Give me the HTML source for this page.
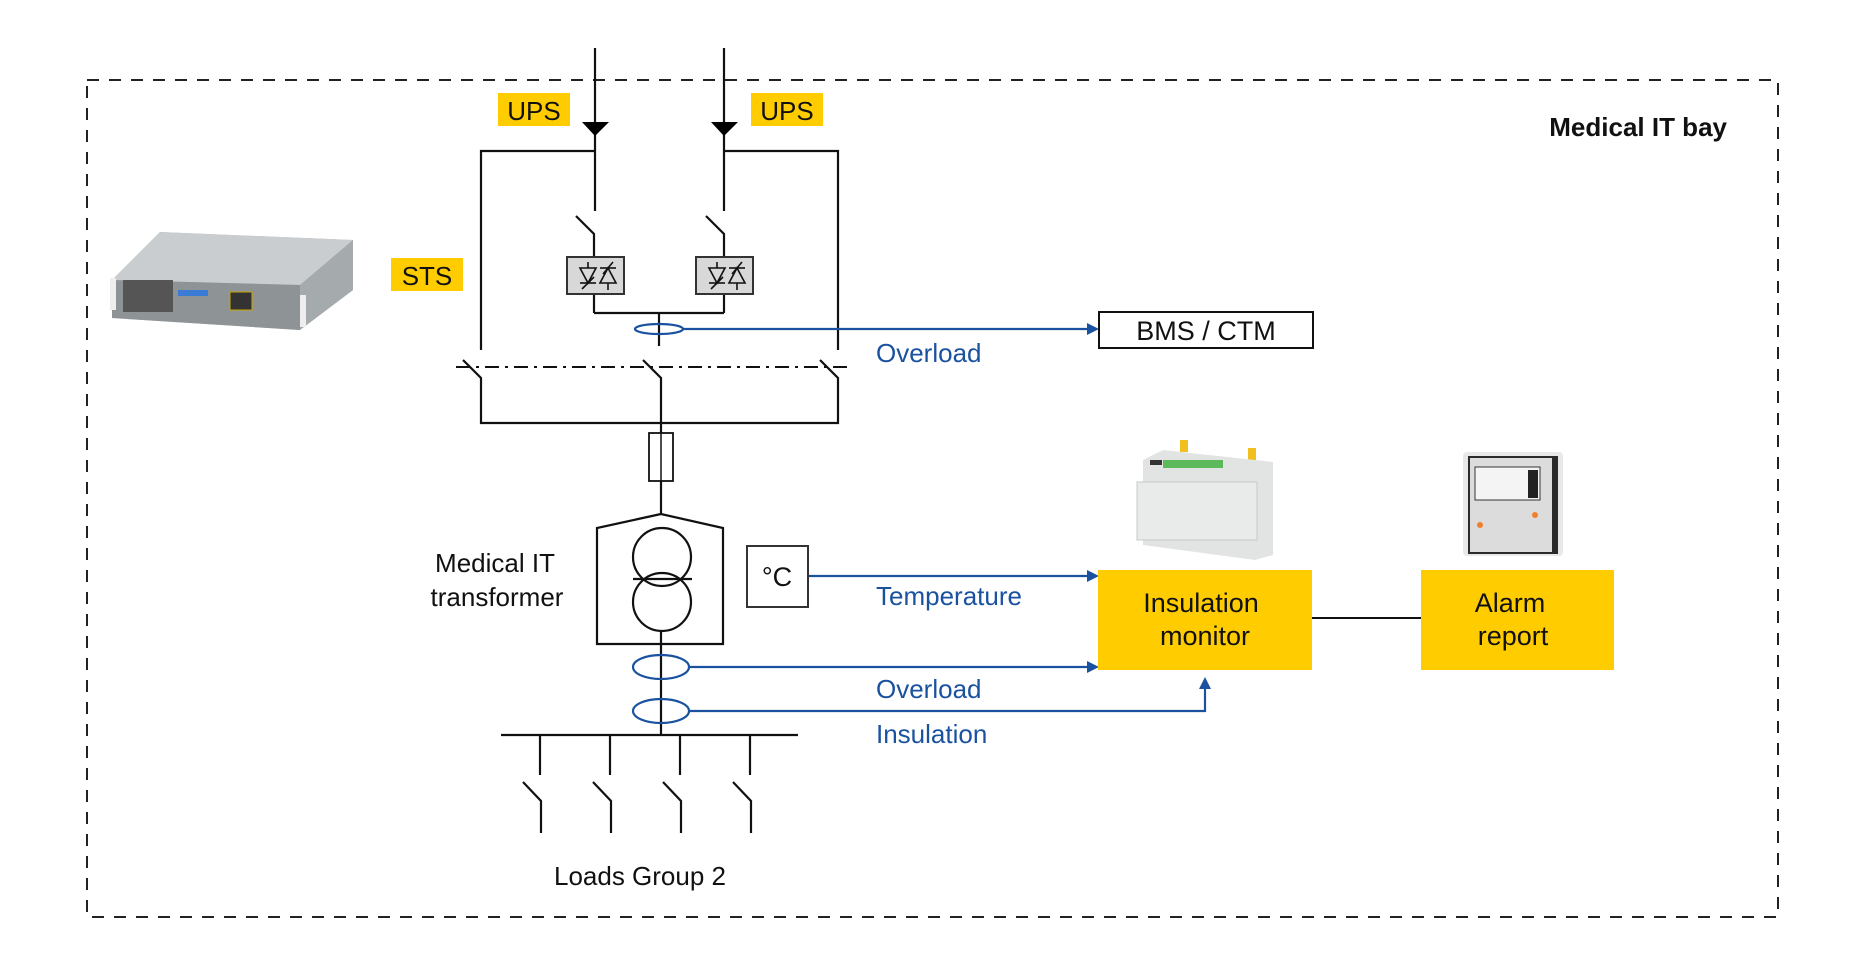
<!DOCTYPE html>
<html><head><meta charset="utf-8"><style>
html,body{margin:0;padding:0;background:#fff}
svg{display:block}
text{font-family:"Liberation Sans",sans-serif}
</style></head><body>
<svg width="1856" height="961" viewBox="0 0 1856 961" xmlns="http://www.w3.org/2000/svg">
<!-- bay border -->
<rect x="87" y="80" width="1691" height="837" fill="none" stroke="#222" stroke-width="2" stroke-dasharray="12,10"/>
<text x="1727" y="136" font-size="26" font-weight="bold" text-anchor="end" fill="#111">Medical IT bay</text>

<!-- UPS device image -->
<g>
<polygon points="112,280 160,232 353,240 353,290 300,330 112,318" fill="#b8bcbf"/>
<polygon points="112,280 160,232 353,240 300,285" fill="#c9cdd0"/>
<polygon points="112,280 300,285 300,330 112,318" fill="#8e9396"/>
<polygon points="300,285 353,240 353,290 300,330" fill="#a5aaad"/>
<rect x="123" y="280" width="50" height="32" fill="#555"/>
<rect x="178" y="290" width="30" height="6" fill="#3a7bd5"/>
<rect x="230" y="292" width="22" height="18" fill="#333" stroke="#c9a400"/>
<rect x="110" y="278" width="6" height="32" fill="#eee"/>
<rect x="300" y="295" width="6" height="32" fill="#eee"/>
</g>

<g stroke="#111" stroke-width="2.2" fill="none">
<!-- feeds -->
<line x1="595" y1="48" x2="595" y2="211"/>
<line x1="724" y1="48" x2="724" y2="211"/>
<polyline points="481,350 481,151 595,151"/>
<polyline points="838,350 838,151 724,151"/>
<!-- inner switches -->
<polyline points="576,216 594,234 594,257"/>
<polyline points="706,216 724,234 724,257"/>
<line x1="594" y1="294" x2="594" y2="313"/>
<line x1="724" y1="294" x2="724" y2="313"/>
<line x1="594" y1="313" x2="724" y2="313"/>
<line x1="659" y1="313" x2="659" y2="346"/>
<!-- lower switches -->
<polyline points="463,360 481,378 481,423 838,423 838,378 820,360"/>
<polyline points="643,360 661,378 661,433"/>
<line x1="661" y1="480" x2="661" y2="514"/>
<!-- transformer -->
<polygon points="661,514 597,528 597,644 723,644 723,528"/>
<circle cx="662" cy="557" r="29"/>
<circle cx="662" cy="602" r="29"/>
<line x1="633" y1="579" x2="692" y2="579"/>
<line x1="661" y1="631" x2="661" y2="735"/>
<line x1="501" y1="735" x2="798" y2="735"/>
<line x1="540" y1="735" x2="540" y2="775"/>
<line x1="610" y1="735" x2="610" y2="775"/>
<line x1="680" y1="735" x2="680" y2="775"/>
<line x1="750" y1="735" x2="750" y2="775"/>
<polyline points="523,782 541,801 541,833"/>
<polyline points="593,782 611,801 611,833"/>
<polyline points="663,782 681,801 681,833"/>
<polyline points="733,782 751,801 751,833"/>
</g>
<line x1="456" y1="367" x2="848" y2="367" stroke="#111" stroke-width="2" stroke-dasharray="14,6,3,6"/>
<!-- fuse -->
<rect x="649" y="433" width="24" height="48" fill="#fff" stroke="#111" stroke-width="1.8"/>
<line x1="661" y1="433" x2="661" y2="481" stroke="#111" stroke-width="1.5"/>
<!-- arrows heads UPS -->
<polygon points="582,122 609,122 595,136" fill="#000"/>
<polygon points="711,122 738,122 724,136" fill="#000"/>
<!-- thyristor boxes -->
<g>
<rect x="567" y="257" width="57" height="37" fill="#d8d8d8" stroke="#333" stroke-width="2"/>
<rect x="696" y="257" width="57" height="37" fill="#d8d8d8" stroke="#333" stroke-width="2"/>
<g stroke="#111" stroke-width="1.6" fill="none">
<polygon points="580,268 596,268 588,283"/><line x1="580" y1="283" x2="596" y2="283"/><line x1="588" y1="262" x2="588" y2="268"/><line x1="582" y1="289" x2="594" y2="277"/>
<polygon points="600,283 616,283 608,268"/><line x1="600" y1="268" x2="616" y2="268"/><line x1="608" y1="283" x2="608" y2="290"/><line x1="603" y1="274" x2="613" y2="262"/>
<polygon points="709,268 725,268 717,283"/><line x1="709" y1="283" x2="725" y2="283"/><line x1="717" y1="262" x2="717" y2="268"/><line x1="711" y1="289" x2="723" y2="277"/>
<polygon points="729,283 745,283 737,268"/><line x1="729" y1="268" x2="745" y2="268"/><line x1="737" y1="283" x2="737" y2="290"/><line x1="732" y1="274" x2="742" y2="262"/>
</g>
</g>
<!-- labels yellow -->
<rect x="498" y="93" width="72" height="33" fill="#ffcc00"/>
<text x="534" y="120" font-size="26" text-anchor="middle" fill="#111">UPS</text>
<rect x="751" y="93" width="72" height="33" fill="#ffcc00"/>
<text x="787" y="120" font-size="26" text-anchor="middle" fill="#111">UPS</text>
<rect x="391" y="258" width="72" height="33" fill="#ffcc00"/>
<text x="427" y="285" font-size="26" text-anchor="middle" fill="#111">STS</text>

<!-- blue lines -->
<g stroke="#1a52a0" stroke-width="2.2" fill="none">
<ellipse cx="659" cy="329" rx="24" ry="5"/>
<line x1="683" y1="329" x2="1090" y2="329"/>
<line x1="808" y1="576" x2="1090" y2="576"/>
<ellipse cx="661" cy="667" rx="28" ry="12"/>
<ellipse cx="661" cy="711" rx="28" ry="12"/>
<line x1="689" y1="667" x2="1090" y2="667"/>
<polyline points="689,711 1205,711 1205,688"/>
</g>
<g fill="#1a52a0">
<polygon points="1099,329 1087,323 1087,335"/>
<polygon points="1099,576 1087,570 1087,582"/>
<polygon points="1099,667 1087,661 1087,673"/>
<polygon points="1205,677 1199,689 1211,689"/>
</g>
<g font-size="26" fill="#1a52a0">
<text x="876" y="362">Overload</text>
<text x="876" y="605">Temperature</text>
<text x="876" y="698">Overload</text>
<text x="876" y="743">Insulation</text>
</g>
<!-- BMS -->
<rect x="1099" y="312" width="214" height="36" fill="#fff" stroke="#111" stroke-width="2"/>
<text x="1206" y="340" font-size="27" text-anchor="middle" fill="#111">BMS / CTM</text>
<!-- degC -->
<rect x="747" y="546" width="61" height="61" fill="#fff" stroke="#333" stroke-width="2"/>
<text x="777" y="586" font-size="27" text-anchor="middle" fill="#111">°C</text>
<g font-size="26" fill="#111" text-anchor="middle">
<text x="495" y="572">Medical IT</text>
<text x="497" y="606">transformer</text>
<text x="640" y="885">Loads Group 2</text>
</g>
<!-- monitor boxes -->
<rect x="1098" y="570" width="214" height="100" fill="#ffcc00"/>
<text x="1201" y="612" font-size="27" text-anchor="middle" fill="#111">Insulation</text>
<text x="1205" y="645" font-size="27" text-anchor="middle" fill="#111">monitor</text>
<line x1="1312" y1="618" x2="1421" y2="618" stroke="#111" stroke-width="2"/>
<rect x="1421" y="570" width="193" height="100" fill="#ffcc00"/>
<text x="1510" y="612" font-size="27" text-anchor="middle" fill="#111">Alarm</text>
<text x="1513" y="645" font-size="27" text-anchor="middle" fill="#111">report</text>

<!-- insulation device -->
<g>
<rect x="1180" y="440" width="8" height="12" fill="#f0c020"/>
<rect x="1248" y="448" width="8" height="12" fill="#f0c020"/>
<polygon points="1143,460 1163,450 1273,462 1273,555 1255,560 1143,545" fill="#e2e4e4"/>
<rect x="1137" y="482" width="120" height="58" fill="#e9eaea" stroke="#c8caca"/>
<rect x="1163" y="460" width="60" height="8" fill="#5cba5c"/>
<rect x="1150" y="460" width="12" height="5" fill="#333"/>
</g>
<!-- alarm device -->
<g>
<rect x="1463" y="452" width="100" height="104" rx="4" fill="#e8e8e8"/>
<rect x="1468" y="456" width="90" height="98" fill="#2a2a2a"/>
<rect x="1470" y="458" width="82" height="94" fill="#dcdcdc"/>
<rect x="1475" y="467" width="65" height="33" fill="#f4f4f4" stroke="#333"/>
<rect x="1528" y="470" width="10" height="28" fill="#222"/>
<circle cx="1480" cy="525" r="3" fill="#f08030"/>
<circle cx="1535" cy="515" r="3" fill="#f08030"/>
</g>
</svg>
</body></html>
